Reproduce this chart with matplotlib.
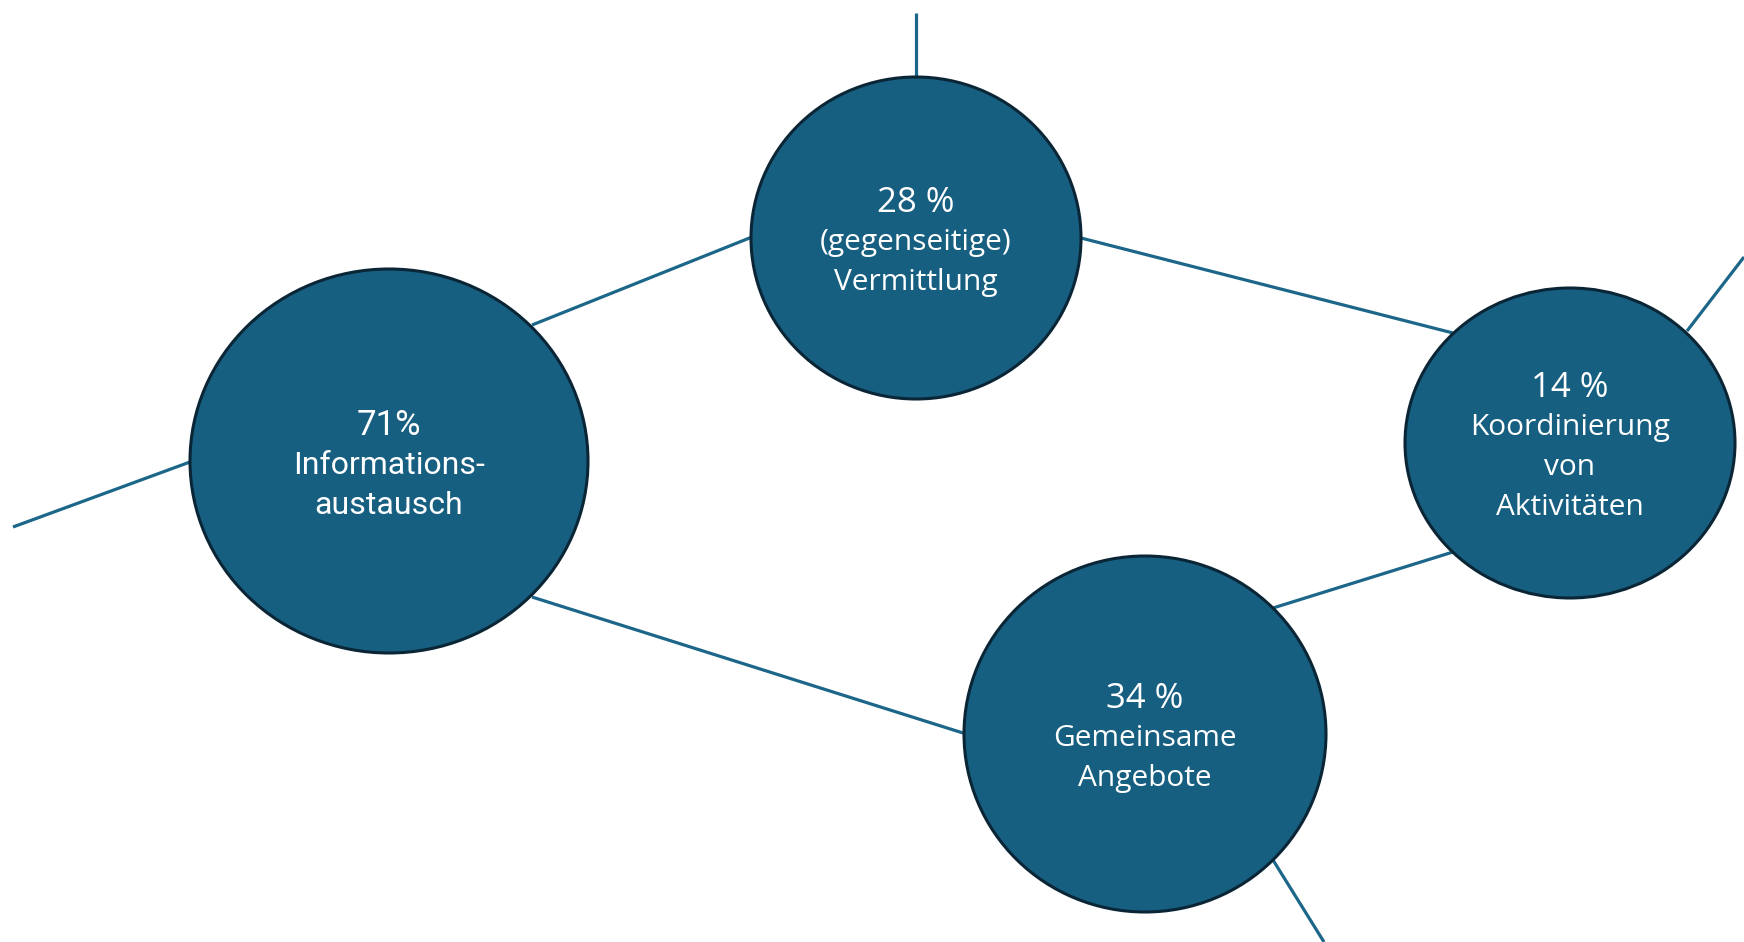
import matplotlib.pyplot as plt
from matplotlib.patches import Ellipse

# bubbles: centre (px), half-width, half-height, share, label
cx = [389, 916, 1570, 1145]
cy = [461, 238, 443, 734]
rx = [199, 165, 165, 181]
ry = [192, 161, 155, 178]
shares = ['71%', '28 %', '14 %', '34 %']
labels = [['Informations-', 'austausch'],
          ['(gegenseitige)', 'Vermittlung'],
          ['Koordinierung', 'von', 'Aktivitäten'],
          ['Gemeinsame', 'Angebote']]
fonts = ['Roboto', 'Open Sans', 'Open Sans', 'Open Sans']

# connector segments (x0, y0, x1, y1)
segs = [(13, 527, 190, 462),
        (916, 13, 916, 77),
        (532, 325, 752, 237),
        (1081, 238, 1453, 333),
        (1687, 331, 1744, 257),
        (1453, 552, 1273, 608),
        (532, 597, 963, 733),
        (1273, 860, 1324, 942)]

fill = '#175F81'
edge = '#0A2636'
linec = '#1C6689'
step = 40

fig = plt.figure(figsize=(17.44, 9.42), dpi=100)
ax = fig.add_axes([0, 0, 1, 1])
ax.set_xlim(0, 1744)
ax.set_ylim(942, 0)
ax.axis('off')

for x0, y0, x1, y1 in segs:
    ax.plot([x0, x1], [y0, y1], color=linec, lw=2.3, zorder=1, solid_capstyle='butt')

for i in range(len(cx)):
    ax.add_patch(Ellipse((cx[i], cy[i]), 2 * rx[i], 2 * ry[i], facecolor=fill,
                         edgecolor=edge, lw=2.2, zorder=2))
    lines = [shares[i]] + labels[i]
    n = len(lines)
    for k, s in enumerate(lines):
        y = cy[i] + 1 + (k - (n - 1) / 2) * step
        fs = 25 if k == 0 else (23 if fonts[i] == 'Roboto' else 21.5)
        ax.text(cx[i], y, s, color='white', ha='center', va='center_baseline',
                fontsize=fs, family=fonts[i], zorder=3)

fig.savefig('out.png', dpi=100)
